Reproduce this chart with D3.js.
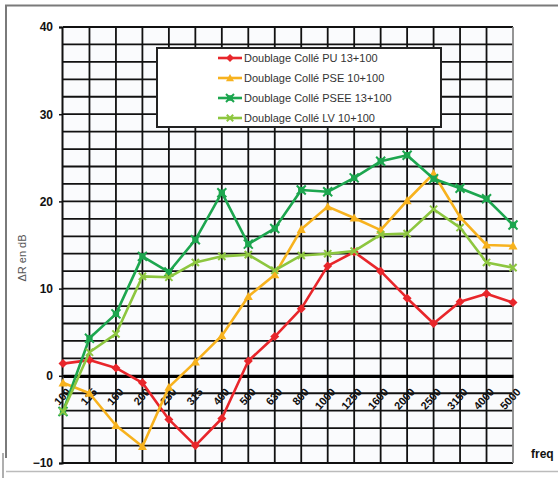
<!DOCTYPE html>
<html>
<head>
<meta charset="utf-8">
<script src="https://cdn.jsdelivr.net/npm/d3@7/dist/d3.min.js"></script>
<style>
  html, body { margin: 0; padding: 0; background: #fff; }
  svg { display: block; font-family: "Liberation Sans", Arial, sans-serif; }
</style>
</head>
<body>
<svg id="chart" width="558" height="478"></svg>
<script>
// Third-octave frequency bands (Hz)
const freqs = ["100","125","160","200","250","315","400","500","630","800","1000","1250","1600","2000","2500","3150","4000","5000"];

// ΔR (dB) per band for each lining
const puValues   = [1.4, 1.8, 0.9, -0.8, -5.0, -8.0, -4.9, 1.7, 4.5, 7.7, 12.6, 14.2, 12.0, 8.9, 6.0, 8.5, 9.4, 8.4];
const pseValues  = [-0.8, -2.0, -5.7, -8.1, -1.3, 1.6, 4.6, 9.1, 11.6, 16.8, 19.4, 18.1, 16.7, 20.1, 23.2, 18.2, 15.0, 14.9];
const pseeValues = [-4.1, 4.3, 7.1, 13.7, 11.9, 15.6, 21.0, 15.1, 16.9, 21.3, 21.1, 22.7, 24.6, 25.3, 22.6, 21.5, 20.3, 17.3];
const lvValues   = [-4.1, 2.7, 4.8, 11.4, 11.3, 13.0, 13.7, 13.9, 12.1, 13.8, 14.0, 14.3, 16.2, 16.3, 19.1, 17.0, 13.0, 12.4];

const seriesNames = ["Doublage Collé PU 13+100", "Doublage Collé PSE 10+100", "Doublage Collé PSEE 13+100", "Doublage Collé LV 10+100"];
const yTicks = [-10, 0, 10, 20, 30, 40];

const series = [
  { name: seriesNames[0], values: puValues,   color: "#e8262b", marker: "diamond" },
  { name: seriesNames[1], values: pseValues,  color: "#f7b21e", marker: "triangle" },
  { name: seriesNames[2], values: pseeValues, color: "#1da64f", marker: "star" },
  { name: seriesNames[3], values: lvValues,   color: "#8dc63f", marker: "cross" }
];

const svg = d3.select("#chart");

// outer frame
const frame = svg.append("g").attr("stroke", "#7a7a7a").attr("fill", "none");
frame.append("line").attr("x1", 5).attr("x2", 558).attr("y1", 5.5).attr("y2", 5.5).attr("stroke-width", 2);
frame.append("line").attr("x1", 6).attr("x2", 6).attr("y1", 5).attr("y2", 458).attr("stroke-width", 2);
frame.append("line").attr("x1", 3).attr("x2", 3).attr("y1", 453).attr("y2", 478).attr("stroke-width", 1.2);
frame.append("line").attr("x1", 6).attr("x2", 558).attr("y1", 471.5).attr("y2", 471.5).attr("stroke", "#bbb").attr("stroke-width", 1.5);

const x = d3.scalePoint().domain(freqs).range([63, 513]);
const y = d3.scaleLinear().domain([-10, 40]).range([463, 27]);

// plot background
svg.append("rect").attr("x", 63).attr("y", 27).attr("width", 450).attr("height", 436).attr("fill", "#fafbfd");

// horizontal grid every 2 dB
const hGrid = d3.range(-10, 41, 2);
svg.append("g").selectAll("line").data(hGrid).join("line")
  .attr("x1", 63).attr("x2", 513)
  .attr("y1", d => y(d)).attr("y2", d => y(d))
  .attr("stroke", "#111").attr("stroke-width", 1.8);

// vertical grid at every band
svg.append("g").selectAll("line").data(freqs.slice(1)).join("line")
  .attr("x1", d => x(d)).attr("x2", d => x(d))
  .attr("y1", 27).attr("y2", 463)
  .attr("stroke", (d, i) => i === freqs.length - 2 ? "#8a8a8a" : "#111")
  .attr("stroke-width", 1.8);

// y axis
const yAxis = d3.axisLeft(y).tickValues(yTicks).tickSize(3).tickFormat(d3.format("d"));
const gy = svg.append("g").attr("transform", "translate(62,0)").call(yAxis);
gy.select(".domain").attr("stroke", "#111").attr("stroke-width", 2);
gy.selectAll(".tick line").attr("stroke", "#111").attr("stroke-width", 1.5);
gy.selectAll(".tick text")
  .attr("x", -9)
  .attr("font-size", 12).attr("font-weight", "bold").attr("fill", "#111")
  .attr("font-family", "Liberation Sans, Arial, sans-serif");

// zero line with band labels
const xAxis = d3.axisBottom(x).tickSize(0);
const gx = svg.append("g").attr("transform", `translate(0,${y(0)})`).call(xAxis);
gx.select(".domain").attr("stroke", "#000").attr("stroke-width", 3.2);
gx.selectAll(".tick text")
  .attr("font-size", 11).attr("font-weight", "bold").attr("fill", "#111")
  .attr("font-family", "Liberation Sans, Arial, sans-serif")
  .attr("text-anchor", "end")
  .attr("y", 0).attr("dy", "0.35em")
  .attr("transform", "translate(5,14) rotate(-48)");

// axis titles
svg.append("text")
  .attr("transform", "translate(26,258) rotate(-90)")
  .attr("text-anchor", "middle")
  .attr("font-size", 11).attr("fill", "#555")
  .text("ΔR en dB");
svg.append("text")
  .attr("x", 531).attr("y", 458)
  .attr("font-size", 12).attr("font-weight", "bold").attr("fill", "#111")
  .text("freq");

function drawMarker(g, type, color, size) {
  const s = size;
  if (type === "diamond") {
    g.append("path").attr("d", `M0,${-s}L${s},0L0,${s}L${-s},0Z`).attr("fill", color);
  } else if (type === "triangle") {
    g.append("path").attr("d", `M0,${-s}L${s},${s * 0.8}L${-s},${s * 0.8}Z`).attr("fill", color);
  } else if (type === "star") {
    g.append("rect").attr("x", -s * 0.7).attr("y", -s * 0.7).attr("width", s * 1.4).attr("height", s * 1.4).attr("fill", color);
    g.append("path").attr("d", `M${-s},${-s}L${s},${s}M${-s},${s}L${s},${-s}`).attr("stroke", color).attr("stroke-width", 2);
  } else if (type === "cross") {
    g.append("path").attr("d", `M${-s * 0.8},${-s * 0.8}L${s * 0.8},${s * 0.8}M${-s * 0.8},${s * 0.8}L${s * 0.8},${-s * 0.8}`)
      .attr("stroke", color).attr("stroke-width", 2);
  }
}

const line = d3.line().x((d, i) => x(freqs[i])).y(d => y(d));

series.forEach(s => {
  svg.append("path").datum(s.values)
    .attr("d", line)
    .attr("fill", "none").attr("stroke", s.color).attr("stroke-width", 2.6)
    .attr("stroke-linejoin", "round");
  s.values.forEach((v, i) => {
    const g = svg.append("g").attr("transform", `translate(${x(freqs[i])},${y(v)})`);
    drawMarker(g, s.marker, s.color, 4.5);
  });
});

// legend
const legend = svg.append("g");
legend.append("rect").attr("x", 157).attr("y", 48).attr("width", 284).attr("height", 79)
  .attr("fill", "#fff").attr("stroke", "#222").attr("stroke-width", 2);
series.forEach((s, i) => {
  const ly = 58 + i * 20;
  legend.append("line").attr("x1", 218).attr("x2", 242).attr("y1", ly).attr("y2", ly)
    .attr("stroke", s.color).attr("stroke-width", 2.6);
  const g = legend.append("g").attr("transform", `translate(230,${ly})`);
  drawMarker(g, s.marker, s.color, 4);
  legend.append("text").attr("x", 244).attr("y", ly).attr("dy", "0.35em")
    .attr("font-size", 11).attr("fill", "#333").text(s.name);
});
</script>
</body>
</html>
